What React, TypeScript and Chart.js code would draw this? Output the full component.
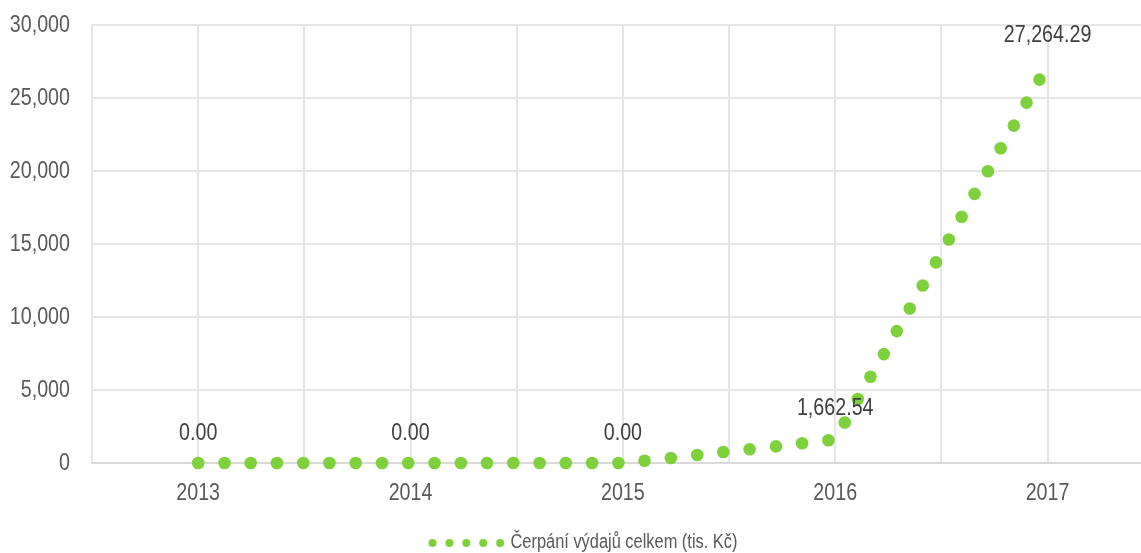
import React, { useEffect, useRef } from 'react';
import { Chart, registerables } from 'chart.js';

Chart.register(...registerables);

const seriesLabel = 'Čerpání výdajů celkem (tis. Kč)';

// x positions in decimal years
const pointYears = [
  2013.0, 2013.124, 2013.247, 2013.371, 2013.495, 2013.618, 2013.742, 2013.866,
  2013.989, 2014.113, 2014.237, 2014.36, 2014.484, 2014.608, 2014.731, 2014.855,
  2014.979, 2015.102, 2015.226, 2015.35, 2015.473, 2015.597, 2015.721, 2015.844,
  2015.968,
  2016.045, 2016.106, 2016.166, 2016.229, 2016.29, 2016.351, 2016.412, 2016.474,
  2016.535, 2016.595, 2016.656, 2016.719, 2016.779, 2016.841, 2016.901, 2016.962,
];
const pointValues = [
  0, 0, 0, 0, 0, 0, 0, 0,
  0, 0, 0, 0, 0, 0, 0, 0,
  0, 150, 342, 548, 753, 945, 1136, 1355,
  1560,
  2772, 4380, 5907, 7460, 9035, 10582, 12156, 13740,
  15305, 16858, 18433, 19986, 21561, 23108, 24682, 26256,
];

const labelYears = [2013, 2014, 2015, 2016, 2017];
const labelValues = [0, 0, 0, 1662.54, 27264.29];

const xTicks = [2012.5, 2013, 2013.5, 2014, 2014.5, 2015, 2015.5, 2016, 2016.5, 2017];
const xTickLabels = ['', '2013', '', '2014', '', '2015', '', '2016', '', '2017'];
const xMin = 2012.5;
const xMax = 2017.44;
const yTicks = [0, 5000, 10000, 15000, 20000, 25000, 30000];
const yTickLabels = ['0', '5,000', '10,000', '15,000', '20,000', '25,000', '30,000'];

const GREEN = '#7dd13b';
const FONT = "'Liberation Sans', Arial, sans-serif";
const SQUEEZE = 0.82; // condensed look of the original narrow font

function condensedText(ctx: CanvasRenderingContext2D, text: string, x: number, y: number, align: CanvasTextAlign, size: number, color: string) {
  ctx.save();
  ctx.font = `${size}px ${FONT}`;
  ctx.fillStyle = color;
  ctx.textAlign = align;
  ctx.textBaseline = 'middle';
  ctx.translate(x, y);
  ctx.scale(SQUEEZE, 1);
  ctx.fillText(text, 0, 0);
  ctx.restore();
}

const textPlugin = {
  id: 'condensedLabels',
  afterDraw(chart: any) {
    const ctx: CanvasRenderingContext2D = chart.ctx;
    const xs = chart.scales.x;
    const ys = chart.scales.y;
    const area = chart.chartArea;
    // y tick labels
    yTicks.forEach((v, i) => {
      condensedText(ctx, yTickLabels[i], area.left - 22, ys.getPixelForValue(v), 'right', 24, '#595959');
    });
    // x tick labels
    xTicks.forEach((v, i) => {
      if (xTickLabels[i]) condensedText(ctx, xTickLabels[i], xs.getPixelForValue(v), area.bottom + 30, 'center', 24, '#595959');
    });
    // data labels
    const meta = chart.getDatasetMeta(1);
    const ds = chart.data.datasets[1];
    meta.data.forEach((el: any, i: number) => {
      const v = ds.data[i].y as number;
      const txt = v.toLocaleString('en-US', { minimumFractionDigits: 2, maximumFractionDigits: 2 });
      condensedText(ctx, txt, el.x, el.y - 30, 'center', 24, '#404040');
    });
    // legend
    const ly = chart.height - 10;
    const startX = chart.width / 2 - 142;
    ctx.save();
    ctx.fillStyle = GREEN;
    for (let i = 0; i < 5; i++) {
      ctx.beginPath();
      ctx.arc(startX + 4 + i * 16.9, ly, 4, 0, Math.PI * 2);
      ctx.fill();
    }
    ctx.restore();
    condensedText(ctx, seriesLabel, startX + 82, ly - 1, 'left', 20, '#595959');
  },
};

export default function App() {
  const ref = useRef<HTMLCanvasElement | null>(null);
  useEffect(() => {
    document.body.style.margin = '0';
    if (!ref.current) return;
    const chart = new Chart(ref.current, {
      type: 'scatter',
      data: {
        datasets: [
          {
            label: seriesLabel,
            data: pointYears.map((x, i) => ({ x, y: pointValues[i] })),
            backgroundColor: GREEN,
            borderColor: GREEN,
            borderWidth: 0,
            pointRadius: 6.3,
            pointHoverRadius: 6.3,
            showLine: false,
            clip: false,
          },
          {
            label: 'labels',
            data: labelYears.map((x, i) => ({ x, y: labelValues[i] })),
            pointRadius: 0,
            pointHoverRadius: 0,
            showLine: false,
          },
        ],
      },
      options: {
        animation: false,
        responsive: false,
        layout: { autoPadding: false, padding: { left: 92, top: 25, right: 0, bottom: 90 } },
        plugins: {
          tooltip: { enabled: false },
          legend: { display: false },
        },
        scales: {
          x: {
            type: 'linear',
            min: xMin,
            max: xMax,
            afterBuildTicks: (scale: any) => {
              scale.ticks = xTicks.map((v) => ({ value: v }));
            },
            afterFit: (scale: any) => {
              scale.height = 0;
            },
            grid: { color: '#e6e6e6', lineWidth: 2, drawTicks: false },
            border: { color: '#d9d9d9', width: 2 },
            ticks: { display: false },
          },
          y: {
            min: 0,
            max: 30000,
            afterBuildTicks: (scale: any) => {
              scale.ticks = yTicks.map((v) => ({ value: v }));
            },
            afterFit: (scale: any) => {
              scale.width = 0;
            },
            grid: { color: '#e6e6e6', lineWidth: 2, drawTicks: false },
            border: { display: false },
            ticks: { display: false },
          },
        },
      },
      plugins: [textPlugin],
    } as any);
    return () => chart.destroy();
  }, []);
  return (
    <div style={{ width: 1141, height: 553 }}>
      <canvas ref={ref} width={1141} height={553} />
    </div>
  );
}
